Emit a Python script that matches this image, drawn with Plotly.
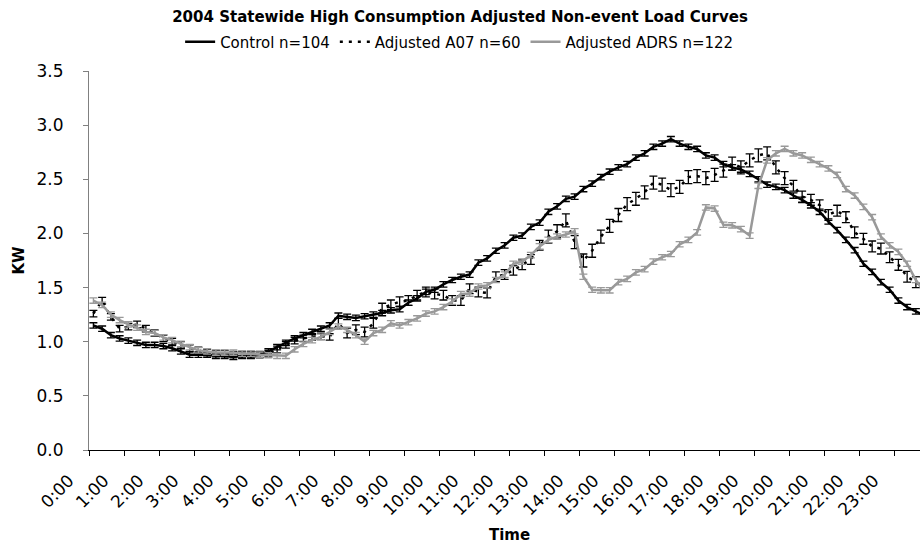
import plotly.graph_objects as go

hours = [f"{h}:00" for h in range(24)]

control = [1.15, 1.12, 1.06, 1.03, 1.01, 0.99, 0.97, 0.97, 0.96, 0.94, 0.91, 0.88, 0.88, 0.88, 0.87, 0.87,
           0.86, 0.87, 0.87, 0.88, 0.91, 0.95, 0.99, 1.03, 1.06, 1.09, 1.12, 1.15, 1.24, 1.23, 1.22, 1.235,
           1.25, 1.265, 1.29, 1.30, 1.36, 1.40, 1.46, 1.48, 1.53, 1.57, 1.60, 1.62, 1.73, 1.77, 1.84, 1.89,
           1.96, 1.98, 2.06, 2.10, 2.20, 2.25, 2.32, 2.34, 2.41, 2.46, 2.52, 2.57, 2.61, 2.64, 2.70, 2.74,
           2.80, 2.83, 2.87, 2.83, 2.80, 2.78, 2.72, 2.70, 2.64, 2.61, 2.59, 2.55, 2.50, 2.45, 2.43, 2.40,
           2.35, 2.31, 2.26, 2.20, 2.11, 2.03, 1.94, 1.845, 1.72, 1.645, 1.55, 1.48, 1.38, 1.32, 1.28, 1.24]

a07 = [1.26, 1.38, 1.23, 1.12, 1.14, 1.16, 1.12, 1.08, 1.03, 1.00, 0.97, 0.94, 0.92, 0.90, 0.89, 0.89,
       0.88, 0.88, 0.88, 0.88, 0.89, 0.93, 0.97, 1.01, 1.03, 1.045, 1.05, 1.045, 1.17, 1.08, 1.11, 1.09,
       1.17, 1.31, 1.34, 1.37, 1.38, 1.43, 1.46, 1.44, 1.43, 1.38, 1.38, 1.49, 1.46, 1.45, 1.60, 1.62,
       1.66, 1.71, 1.76, 1.89, 1.97, 2.02, 2.12, 1.92, 1.75, 1.84, 1.97, 2.07, 2.17, 2.27, 2.32, 2.38,
       2.47, 2.45, 2.40, 2.43, 2.52, 2.53, 2.51, 2.54, 2.58, 2.645, 2.61, 2.675, 2.72, 2.74, 2.61, 2.51,
       2.44, 2.34, 2.31, 2.26, 2.17, 2.21, 2.15, 2.01, 1.95, 1.88, 1.86, 1.78, 1.71, 1.60, 1.55, 1.50]

adrs = [1.38, 1.34, 1.25, 1.20, 1.16, 1.13, 1.09, 1.08, 1.04, 1.015, 0.98, 0.95, 0.92, 0.91, 0.90, 0.90,
        0.90, 0.89, 0.89, 0.88, 0.875, 0.87, 0.87, 0.93, 0.98, 1.015, 1.045, 1.09, 1.14, 1.11, 1.06, 1.00,
        1.08, 1.11, 1.17, 1.15, 1.18, 1.215, 1.26, 1.28, 1.32, 1.37, 1.44, 1.445, 1.51, 1.52, 1.57, 1.62,
        1.72, 1.74, 1.80, 1.88, 1.94, 1.97, 1.99, 2.02, 1.60, 1.48, 1.475, 1.475, 1.55, 1.58, 1.64, 1.67,
        1.74, 1.78, 1.81, 1.90, 1.94, 2.01, 2.24, 2.23, 2.08, 2.075, 2.04, 1.98, 2.44, 2.675, 2.74, 2.78,
        2.74, 2.72, 2.68, 2.64, 2.60, 2.54, 2.41, 2.35, 2.245, 2.15, 1.97, 1.89, 1.83, 1.72, 1.57, 1.45]

control_err = [0.025] * 96
adrs_err = [0.025] * 96
a07_err = [0.03] * 28 + [0.045] * 24 + [0.06] * 28 + [0.05] * 16

x = list(range(96))

fig = go.Figure()
fig.add_trace(go.Scatter(
    x=x, y=control, name="Control n=104", mode="lines",
    line=dict(color="#000000", width=2.5),
    error_y=dict(type="data", array=control_err, color="#000000", thickness=1.3, width=4),
))
fig.add_trace(go.Scatter(
    x=x, y=a07, name="Adjusted A07 n=60", mode="lines",
    line=dict(color="#000000", width=2.5, dash="3px,6px"),
    error_y=dict(type="data", array=a07_err, color="#000000", thickness=1.3, width=4),
))
fig.add_trace(go.Scatter(
    x=x, y=adrs, name="Adjusted ADRS n=122", mode="lines",
    line=dict(color="#999999", width=2.5),
    error_y=dict(type="data", array=adrs_err, color="#999999", thickness=1.3, width=4),
))

fig.update_layout(
    width=920, height=544,
    margin=dict(l=89, r=0, t=71, b=94),
    paper_bgcolor="white", plot_bgcolor="white",
    font=dict(family="DejaVu Sans", size=16, color="#000000"),
    title=dict(text="<b>2004 Statewide High Consumption Adjusted Non-event Load Curves</b>",
               font=dict(family="DejaVu Sans", size=15),
               x=0.5, xref="container", xanchor="center",
               y=1 - 17 / 544, yref="container", yanchor="middle"),
    legend=dict(orientation="h", x=0.446, xanchor="center", y=1.0765, yanchor="middle",
                font=dict(family="DejaVu Sans", size=15), itemwidth=30,
                bgcolor="rgba(0,0,0,0)", tracegroupgap=0),
    showlegend=True,
)

fig.update_xaxes(
    range=[-0.5, 94.47],
    tickmode="array",
    tickvals=[-0.5 + 4 * k for k in range(24)],
    ticktext=hours,
    tickangle=-45,
    ticks="outside", ticklen=5, tickcolor="#000000",
    ticklabelshift=-20, ticklabelstandoff=8,
    showline=True, linecolor="#000000", linewidth=1,
    showgrid=False, zeroline=False,
    tickfont=dict(family="DejaVu Sans", size=17),
)
fig.update_yaxes(
    range=[0, 3.5], dtick=0.5, tickformat=".1f",
    ticks="outside", ticklen=5, tickcolor="#808080",
    ticklabelstandoff=16,
    showline=True, linecolor="#808080", linewidth=1,
    showgrid=False, zeroline=False,
    tickfont=dict(family="DejaVu Sans", size=17),
)

fig.add_annotation(text="<b>KW</b>", xref="paper", yref="paper", x=(18 - 89) / 831, y=0.5,
                   textangle=-90, showarrow=False, font=dict(family="DejaVu Sans", size=15),
                   xanchor="center", yanchor="middle")
fig.add_annotation(text="<b>Time</b>", xref="paper", yref="paper", x=(509 - 89) / 831,
                   y=(450 - 535) / 379, showarrow=False, font=dict(family="DejaVu Sans", size=15),
                   xanchor="center", yanchor="middle")

fig.write_html("out.html")
